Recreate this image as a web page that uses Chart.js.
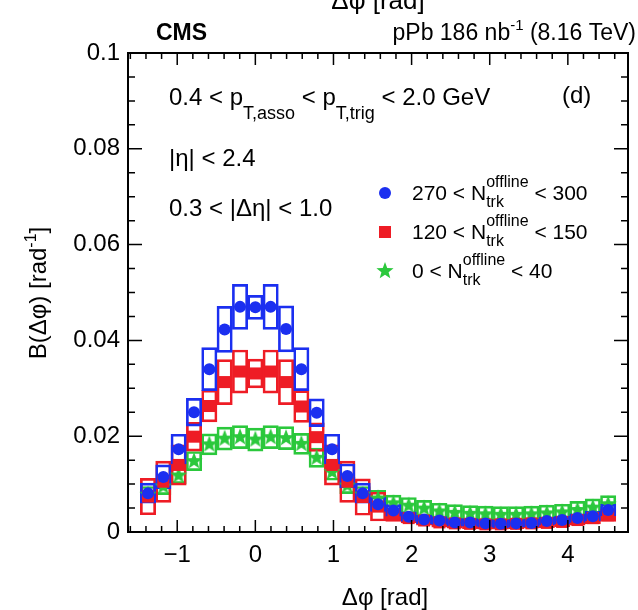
<!DOCTYPE html>
<html>
<head>
<meta charset="utf-8">
<script src="https://cdn.jsdelivr.net/npm/chart.js@4.4.1/dist/chart.umd.min.js"></script>
<style>
  html, body { margin: 0; padding: 0; background: #fff; }
</style>
</head>
<body>
<canvas id="c" width="638" height="610"></canvas>
<script>
// bin centres in delta phi (rad)
const phiBins = [-1.374, -1.178, -0.982, -0.785, -0.589, -0.393, -0.196, 0, 0.196, 0.393, 0.589,
  0.785, 0.982, 1.178, 1.374, 1.571, 1.767, 1.963, 2.160, 2.356, 2.553, 2.749, 2.945, 3.142,
  3.338, 3.534, 3.731, 3.927, 4.123, 4.320, 4.516];

// 270 < Ntrk < 300
const highMult = [0.0081, 0.0115, 0.0173, 0.0250, 0.0340, 0.0423, 0.0470, 0.0469, 0.0470, 0.0424, 0.0340,
  0.0249, 0.0173, 0.0117, 0.0081, 0.0058, 0.0045, 0.0032, 0.0026, 0.0024, 0.0020, 0.0020, 0.0018, 0.0017,
  0.0018, 0.0019, 0.0023, 0.0025, 0.0029, 0.0033, 0.0046];
const highMultSyst = [0.0021, 0.0025, 0.0031, 0.0029, 0.0045, 0.0048, 0.0047, 0.0025, 0.0047, 0.0048, 0.0045,
  0.0029, 0.0031, 0.0025, 0.0021, 0.0015, 0.0012, 0.0010, 0.0009, 0.0008, 0.0008, 0.0008, 0.0008, 0.0008,
  0.0008, 0.0008, 0.0008, 0.0008, 0.0009, 0.0010, 0.0012];

// 120 < Ntrk < 150
const midMult = [0.0074, 0.0105, 0.0140, 0.0199, 0.0263, 0.0313, 0.0335, 0.0331, 0.0335, 0.0313, 0.0262,
  0.0198, 0.0140, 0.0105, 0.0073, 0.0053, 0.0036, 0.0029, 0.0024, 0.0020, 0.0018, 0.0017, 0.0016, 0.0016,
  0.0017, 0.0018, 0.0019, 0.0021, 0.0025, 0.0029, 0.0035];
const midMultSyst = [0.0038, 0.0043, 0.0042, 0.0030, 0.0033, 0.0047, 0.0045, 0.0030, 0.0045, 0.0047, 0.0033,
  0.0030, 0.0042, 0.0043, 0.0038, 0.0030, 0.0014, 0.0010, 0.0010, 0.0010, 0.0010, 0.0010, 0.0010, 0.0010,
  0.0010, 0.0010, 0.0010, 0.0010, 0.0011, 0.0012, 0.0013];

// 0 < Ntrk < 40
const lowMult = [0.0078, 0.0095, 0.0118, 0.0148, 0.0183, 0.0195, 0.0198, 0.0193, 0.0198, 0.0196, 0.0184,
  0.0155, 0.0125, 0.0097, 0.0078, 0.0070, 0.0060, 0.0055, 0.0049, 0.0043, 0.0040, 0.0038, 0.0037, 0.0036,
  0.0036, 0.0037, 0.0039, 0.0041, 0.0046, 0.0051, 0.0058];
const lowMultSyst = [0.0017, 0.0017, 0.0017, 0.0020, 0.0022, 0.0024, 0.0024, 0.0024, 0.0024, 0.0024, 0.0022,
  0.0020, 0.0017, 0.0017, 0.0017, 0.0017, 0.0017, 0.0017, 0.0017, 0.0017, 0.0017, 0.0017, 0.0017, 0.0017,
  0.0017, 0.0017, 0.0017, 0.0017, 0.0018, 0.0018, 0.0018];

const xTickLabels = [-1, 0, 1, 2, 3, 4];
const yTickLabels = [0, 0.02, 0.04, 0.06, 0.08, 0.1];

const FONT = '"Liberation Sans", Arial, Helvetica, sans-serif';
const BLUE = '#1b2ff0';
const RED = '#ee1c25';
const GREEN = '#2bc83c';

function makeStar(color, r) {
  const c = document.createElement('canvas');
  const s = Math.ceil(r * 2 + 2);
  c.width = s; c.height = s;
  const g = c.getContext('2d');
  g.fillStyle = color;
  g.beginPath();
  for (let i = 0; i < 10; i++) {
    const a = -Math.PI / 2 + i * Math.PI / 5;
    const rr = i % 2 ? r * 0.42 : r;
    g.lineTo(s / 2 + rr * Math.cos(a), s / 2 + rr * Math.sin(a));
  }
  g.closePath();
  g.fill();
  return c;
}
const greenStar = makeStar(GREEN, 9);

function boxes(vals, syst) {
  return phiBins.map((x, i) => ({ x: x, y: [vals[i] - syst[i], vals[i] + syst[i]] }));
}
function points(vals) {
  return phiBins.map((x, i) => ({ x: x, y: vals[i] }));
}

// draw a sequence of text pieces; stack pieces carry a sup and a sub
function drawRuns(ctx, x, y, runs) {
  ctx.textAlign = 'left';
  ctx.textBaseline = 'alphabetic';
  runs.forEach(r => {
    if (r.sup !== undefined) {
      ctx.font = r.size + 'px ' + FONT;
      ctx.fillText(r.sup, x, y - 13);
      const w1 = ctx.measureText(r.sup).width;
      ctx.fillText(r.sub, x, y + 7);
      const w2 = ctx.measureText(r.sub).width;
      x += Math.max(w1, w2);
    } else {
      ctx.font = (r.bold ? 'bold ' : '') + r.size + 'px ' + FONT;
      ctx.fillText(r.t, x, y + (r.dy || 0));
      x += ctx.measureText(r.t).width;
    }
  });
}

const decor = {
  id: 'decor',
  afterDatasetsDraw(chart) {
    const ctx = chart.ctx;
    const a = chart.chartArea;
    const xs = chart.scales.x, ys = chart.scales.y;
    ctx.save();
    ctx.strokeStyle = '#000';
    ctx.lineWidth = 2;
    ctx.strokeRect(a.left, a.top, a.right - a.left, a.bottom - a.top);

    // inward ticks, ROOT style
    ctx.lineWidth = 1.5;
    ctx.beginPath();
    for (let v = -1.6; v <= 4.7; v += 0.2) {
      const vv = Math.round(v * 10) / 10;
      const major = Math.abs(vv - Math.round(vv)) < 1e-6;
      const len = major ? 12 : 6;
      const px = xs.getPixelForValue(vv);
      ctx.moveTo(px, a.bottom); ctx.lineTo(px, a.bottom - len);
      ctx.moveTo(px, a.top); ctx.lineTo(px, a.top + len);
    }
    for (let k = 0; k <= 20; k++) {
      const vv = k * 0.005;
      const len = k % 4 === 0 ? 14 : 7;
      const py = ys.getPixelForValue(vv);
      ctx.moveTo(a.left, py); ctx.lineTo(a.left + len, py);
      ctx.moveTo(a.right, py); ctx.lineTo(a.right - len, py);
    }
    ctx.stroke();

    ctx.fillStyle = '#000';
    // header
    drawRuns(ctx, 156, 40, [{ t: 'CMS', size: 23, bold: true }]);
    const hdr = [{ t: 'pPb 186 nb', size: 23 }, { t: '-1', size: 15, dy: -10 }, { t: ' (8.16 TeV)', size: 23 }];
    let hw = 0;
    hdr.forEach(r => { ctx.font = r.size + 'px ' + FONT; hw += ctx.measureText(r.t).width; });
    drawRuns(ctx, 636 - hw, 40, hdr);
    // cut-off title of the panel above
    ctx.font = '26px ' + FONT;
    ctx.textAlign = 'center';
    ctx.fillText('\u0394\u03c6 [rad]', 378, 9);

    // selection labels
    drawRuns(ctx, 169, 105, [
      { t: '0.4 < p', size: 24 }, { t: 'T,asso', size: 18, dy: 14 },
      { t: ' < p', size: 24 }, { t: 'T,trig', size: 18, dy: 14 },
      { t: ' < 2.0 GeV', size: 24 }
    ]);
    drawRuns(ctx, 562, 103, [{ t: '(d)', size: 24 }]);
    drawRuns(ctx, 169, 166, [{ t: '|\u03b7| < 2.4', size: 24 }]);
    drawRuns(ctx, 169, 216, [{ t: '0.3 < |\u0394\u03b7| < 1.0', size: 24 }]);

    // legend
    const leg = [
      { lo: '270', hi: '300', y: 200, mk: 'circle' },
      { lo: '120', hi: '150', y: 239, mk: 'rect' },
      { lo: '0', hi: '40', y: 278, mk: 'star' }
    ];
    leg.forEach(l => {
      const my = l.y - 7;
      if (l.mk === 'circle') {
        ctx.fillStyle = BLUE;
        ctx.beginPath(); ctx.arc(385, my, 6, 0, Math.PI * 2); ctx.fill();
      } else if (l.mk === 'rect') {
        ctx.fillStyle = RED;
        ctx.fillRect(379, my - 6, 12, 12);
      } else {
        ctx.drawImage(greenStar, 385 - greenStar.width / 2, my - greenStar.height / 2);
      }
      ctx.fillStyle = '#000';
      drawRuns(ctx, 412, l.y, [
        { t: l.lo + ' < N', size: 21 },
        { sup: 'offline', sub: 'trk', size: 16 },
        { t: ' < ' + l.hi, size: 21 }
      ]);
    });

    // axis titles
    ctx.font = '24px ' + FONT;
    ctx.textAlign = 'center';
    ctx.fillText('\u0394\u03c6 [rad]', 385, 605);
    ctx.save();
    ctx.translate(46, 293);
    ctx.rotate(-Math.PI / 2);
    ctx.textAlign = 'left';
    ctx.font = '24px ' + FONT;
    const t1 = 'B(\u0394\u03c6) [rad';
    const w1 = ctx.measureText(t1).width;
    ctx.font = '16px ' + FONT;
    const w2 = ctx.measureText('-1').width;
    ctx.font = '24px ' + FONT;
    const w3 = ctx.measureText(']').width;
    const x0 = -(w1 + w2 + w3) / 2;
    drawRuns(ctx, x0, 0, [{ t: t1, size: 24 }, { t: '-1', size: 16, dy: -10 }, { t: ']', size: 24 }]);
    ctx.restore();
    ctx.restore();
  }
};

const boxStyle = (c) => ({
  backgroundColor: 'rgba(0,0,0,0)', borderColor: c, borderWidth: 2, borderSkipped: false,
  grouped: false, barPercentage: 1, categoryPercentage: 1
});

new Chart(document.getElementById('c'), {
  type: 'bar',
  data: {
    datasets: [
      Object.assign({ data: boxes(lowMult, lowMultSyst), order: 6 }, boxStyle(GREEN)),
      Object.assign({ data: boxes(midMult, midMultSyst), order: 5 }, boxStyle(RED)),
      Object.assign({ data: boxes(highMult, highMultSyst), order: 4 }, boxStyle(BLUE)),
      { type: 'scatter', data: points(lowMult), order: 3, pointStyle: greenStar, pointRadius: 9 },
      { type: 'scatter', data: points(midMult), order: 2, pointStyle: 'rect', pointRadius: 8.5,
        backgroundColor: RED, borderColor: RED, borderWidth: 0 },
      { type: 'scatter', data: points(highMult), order: 1, pointStyle: 'circle', pointRadius: 6,
        backgroundColor: BLUE, borderColor: BLUE, borderWidth: 0 }
    ]
  },
  options: {
    responsive: false,
    animation: false,
    layout: { padding: { top: 53, right: 5, left: 0, bottom: 0 } },
    plugins: { legend: { display: false }, tooltip: { enabled: false } },
    scales: {
      x: {
        type: 'linear', min: -1.63, max: 4.77, offset: false,
        grid: { display: false, drawTicks: false }, border: { display: false },
        ticks: {
          color: '#000', font: { family: FONT, size: 24 }, padding: 9, maxRotation: 0,
          callback: v => String(v).replace('-', '\u2212')
        },
        afterBuildTicks: s => { s.ticks = xTickLabels.map(v => ({ value: v })); },
        afterFit: s => { s.height = 78; }
      },
      y: {
        min: 0, max: 0.1,
        grid: { display: false, drawTicks: false }, border: { display: false },
        ticks: {
          color: '#000', font: { family: FONT, size: 24 }, padding: 8,
          callback: v => v === 0 ? '0' : String(+v.toFixed(2))
        },
        afterBuildTicks: s => { s.ticks = yTickLabels.map(v => ({ value: v })); },
        afterFit: s => { s.width = 128; }
      }
    }
  },
  plugins: [decor]
});
</script>
</body>
</html>
